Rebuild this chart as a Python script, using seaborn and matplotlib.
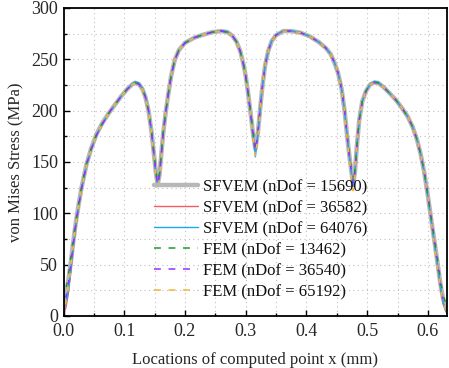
import matplotlib
matplotlib.use("Agg")
import matplotlib.pyplot as plt
import seaborn as sns
import pandas as pd
from matplotlib.ticker import MultipleLocator
from matplotlib.lines import Line2D

x_mm = [0.000,0.004,0.008,0.012,0.016,0.020,0.025,0.030,0.038,0.046,
        0.055,0.065,0.075,0.085,0.095,0.105,0.113,0.118,0.124,0.130,
        0.135,0.140,0.145,0.149,0.152,0.155,0.158,0.161,0.164,0.168,
        0.172,0.177,0.183,0.190,0.200,0.215,0.230,0.245,0.260,0.270,
        0.278,0.285,0.291,0.296,0.300,0.304,0.308,0.312,0.316,0.320,
        0.324,0.328,0.332,0.337,0.343,0.350,0.362,0.375,0.390,0.405,
        0.420,0.432,0.440,0.446,0.452,0.458,0.463,0.468,0.472,0.477,
        0.480,0.483,0.487,0.492,0.498,0.505,0.512,0.518,0.527,0.537,
        0.548,0.558,0.567,0.575,0.582,0.588,0.594,0.600,0.606,0.612,
        0.617,0.621,0.625,0.629,0.632]

sfvem_15690 = [12,22,35,52,72,90,109,126,148,164,
               178,189,198,206,214,221,225.5,227,226,221,
               213,200,179,157,140,128,137,157,177,197,
               214,233,249,259,266,271,274,276.5,277.5,276.5,
               273,267,258,246,234,217,198,178,163,178,
               203,226,244,258,268,273.5,277.5,277.5,276,272.5,
               267,261,255,247,237,221,199,170,150,128,
               141,165,191,209,219,225.5,227.5,227,223,217,
               210,202,194,184,172,158,140,117,92,68,
               47,30,17,10,6]

sfvem_36582 = [2,8,22,43,66,86,106,124,147,163,
               177,188,198,206,214,221,225.5,227.5,226,221,
               213,200,179,156,139,127,136,157,177,197,
               214,233,249,259,266,271,274,276.5,277.5,276.5,
               273,267,258,246,234,217,198,177,160,177,
               203,226,244,258,268,273.5,277.5,277.5,276,272.5,
               267,261,255,247,237,221,199,170,149,126,
               140,165,191,209,219,225.5,227.5,227,223,217,
               210,202,194,184,172,158,140,116,91,66,
               45,27,12,5,2]

sfvem_64076 = [6,12,24,45,67,87,107,125,147,163,
               177,188,198,206,214,221,226,228.5,227,222,
               214,201,180,157,140,127,136,157,177,197,
               214,233,249,259,266,271,274,276.5,278,277,
               273,267,258,246,234,217,197,175,155,176,
               203,226,244,258,268,274,278,278,276,272.5,
               267,261,255,247,237,221,199,170,149,127,
               140,165,191,209,219,226,228.5,228,223,217,
               210,202,194,184,172,158,140,116,91,66,
               45,27,14,6,3]

fem_13462 = [15,26,40,57,75,92,110,127,149,164,
             178,189,198,206,214,221,225.5,227,226,221,
             213,200,180,159,143,131,139,158,178,197,
             214,233,249,259,266,271,274,276.5,277.5,276.5,
             273,267,258,246,234,218,200,181,165,180,
             204,226,244,258,268,273.5,277.5,277.5,276,272.5,
             267,261,255,247,237,222,200,172,152,131,
             143,166,191,209,219,225.5,227.5,227,223,217,
             210,202,194,184,172,158,141,118,94,71,
             51,34,21,13,9]

fem_36540 = [9,18,32,50,70,89,108,125,148,163,
             177,188,198,206,214,221,225.5,227,226,221,
             213,200,179,157,140,128,137,157,177,197,
             214,233,249,259,266,271,274,276.5,277.5,276.5,
             273,267,258,246,234,217,198,178,161,178,
             203,226,244,258,268,273.5,277.5,277.5,276,272.5,
             267,261,255,247,237,221,199,170,150,128,
             141,165,191,209,219,225.5,227.5,227,223,217,
             210,202,194,184,172,158,140,117,92,68,
             47,30,16,8,5]

fem_65192 = [7,13,26,46,68,88,107,125,147,163,
             177,188,198,206,214,221,225.5,227,226,221,
             213,200,178,155,137,122,134,156,177,197,
             214,233,249,259,266,271,274,276.5,277.5,276.5,
             273,267,258,246,234,216,196,174,155,175,
             202,226,244,258,268,273.5,277.5,277.5,276,272.5,
             267,261,255,247,237,220,198,168,147,122,
             137,164,191,209,219,225.5,227.5,227,223,217,
             210,202,194,184,172,158,139,115,90,65,
             44,27,13,6,3]

labels = ["SFVEM (nDof = 15690)", "SFVEM (nDof = 36582)", "SFVEM (nDof = 64076)",
          "FEM (nDof = 13462)", "FEM (nDof = 36540)", "FEM (nDof = 65192)"]
series = [sfvem_15690, sfvem_36582, sfvem_64076, fem_13462, fem_36540, fem_65192]
colors = ["#b8b8b8", "#f25c5c", "#1ea6f0", "#1f9a2a", "#9a2cff", "#f2b640"]
widths = [3.2, 1.0, 1.0, 1.1, 1.1, 1.1]
styles = ["-", "-", "-", (0, (3, 6)), (3, (3, 6)), (6, (3, 6))]
legend_styles = ["-", "-", "-", (0, (4.5, 5)), (0, (4.5, 5)), (0, (4.5, 5))]

sns.set_style("ticks")
plt.rcParams["font.family"] = ["Liberation Serif", "DejaVu Serif"]

fig = plt.figure(figsize=(4.49, 3.68), dpi=100)
ax = fig.add_axes([63.5/449, (368-316)/368, 383.8/449, 308/368])

for lab, ys, c, w, ls in zip(labels, series, colors, widths, styles):
    df = pd.DataFrame({"x": x_mm, "y": ys})
    sns.lineplot(data=df, x="x", y="y", ax=ax, color=c, linewidth=w,
                 linestyle=ls, label=lab, sort=False, estimator=None)

ax.set_xlim(0, 0.632)
ax.set_ylim(0, 300)
ax.xaxis.set_major_locator(MultipleLocator(0.1))
ax.xaxis.set_minor_locator(MultipleLocator(0.05))
ax.yaxis.set_major_locator(MultipleLocator(50))
ax.yaxis.set_minor_locator(MultipleLocator(25))
ax.xaxis.set_major_formatter(matplotlib.ticker.FormatStrFormatter("%.1f"))
ax.grid(True, which="both", linestyle=(0, (1, 3)), color="#c0c0c0", linewidth=0.8)
ax.set_axisbelow(True)
ax.tick_params(which="both", direction="in", labelsize=13, top=False, right=False,
               width=1.0, color="black")
ax.tick_params(which="major", length=4.5)
ax.tick_params(which="minor", length=2.5)
ax.tick_params(axis="x", which="major", pad=5)
ax.tick_params(axis="y", which="major", pad=4)
for s in ax.spines.values():
    s.set_linewidth(1.3)
    s.set_color("black")
ax.set_xlabel("Locations of computed point x (mm)", fontsize=12, labelpad=9)
ax.set_ylabel("von Mises Stress (MPa)", fontsize=12, labelpad=5)

handles = [Line2D([0], [0], color=c, linewidth=w, linestyle=ls)
           for c, w, ls in zip(colors, widths, legend_styles)]
leg = ax.legend(handles=handles, labels=labels, loc="lower left",
                bbox_to_anchor=(0.215, 0.025), frameon=False,
                fontsize=12, handlelength=2.6, handletextpad=0.3, labelspacing=0.3,
                borderpad=0)
for t in leg.get_texts():
    t.set_color("#111111")

fig.savefig("out.png", dpi=100)
